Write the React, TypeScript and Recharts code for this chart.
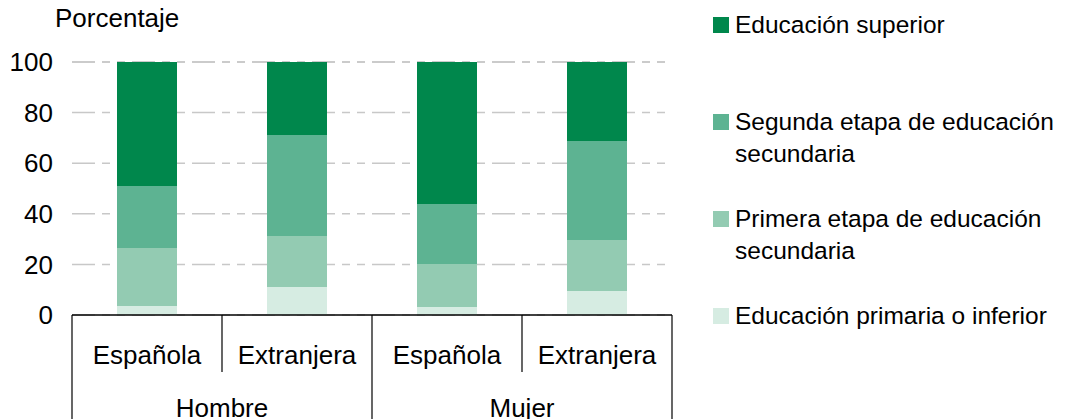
import { BarChart, Bar, XAxis, YAxis, CartesianGrid, Legend } from 'recharts';

const categories = ['Española', 'Extranjera', 'Española', 'Extranjera'];
const groups = ['Hombre', 'Hombre', 'Mujer', 'Mujer'];

const primaria = [3.6, 11.1, 3.2, 9.5];
const primeraEtapa = [22.9, 20.1, 17.0, 20.1];
const segundaEtapa = [24.5, 39.9, 23.7, 39.2];
const superior = [49.0, 28.9, 56.1, 31.2];

const yTicks = [0, 20, 40, 60, 80, 100];

const series = [
  { key: 'primaria', name: 'Educación primaria o inferior', color: '#d6ece2' },
  { key: 'primera', name: 'Primera etapa de educación secundaria', color: '#93cbb2' },
  { key: 'segunda', name: 'Segunda etapa de educación secundaria', color: '#5db392' },
  { key: 'superior', name: 'Educación superior', color: '#00874c' },
];

const data = categories.map((c, i) => ({
  cat: c,
  group: groups[i],
  primaria: primaria[i],
  primera: primeraEtapa[i],
  segunda: segundaEtapa[i],
  superior: superior[i],
}));

const FONT = '"Liberation Sans", Arial, sans-serif';
const BAND = 150;

function CatTick(props: any) {
  const { x, y, index, payload } = props;
  const left = x - BAND / 2;
  const right = x + BAND / 2;
  const startsGroup = index === 0 || groups[index] !== groups[index - 1];
  const endsGroup = index === groups.length - 1 || groups[index] !== groups[index + 1];
  return (
    <g>
      <line x1={left} x2={left} y1={y} y2={startsGroup ? y + 110 : y + 57} stroke="#000" strokeWidth={1.2} />
      {index === groups.length - 1 && (
        <line x1={right} x2={right} y1={y} y2={y + 110} stroke="#000" strokeWidth={1.2} />
      )}
      <text x={x} y={y + 49} textAnchor="middle" fontSize={26} fill="#000" fontFamily={FONT}>
        {payload.value}
      </text>
      {endsGroup && !startsGroup && (
        <text x={left} y={y + 102} textAnchor="middle" fontSize={26} fill="#000" fontFamily={FONT}>
          {groups[index]}
        </text>
      )}
    </g>
  );
}

function LegendBox() {
  const order = [...series].reverse();
  return (
    <div style={{ position: 'relative', width: 352, height: 340, fontFamily: FONT }}>
      {order.map((s, i) => (
        <div key={s.key}>
          <div
            style={{
              position: 'absolute', left: 0, top: 17 + i * 97,
              width: 16, height: 16, background: s.color,
            }}
          />
          <div
            style={{
              position: 'absolute', left: 22, top: 9 + i * 97, width: 328,
              fontSize: 24.5, lineHeight: '32px', color: '#000',
            }}
          >
            {s.name}
          </div>
        </div>
      ))}
    </div>
  );
}

export default function App() {
  return (
    <div style={{ position: 'absolute', left: 0, top: 0, width: 1065, height: 419, background: '#fff', overflow: 'hidden' }}>
      <div
        style={{
          position: 'absolute', left: 55, top: 3, fontFamily: FONT,
          fontSize: 26, color: '#000',
        }}
      >
        Porcentaje
      </div>
      <BarChart
        width={1065}
        height={419}
        data={data}
        margin={{ top: 62, right: 393, bottom: 0, left: 0 }}
        barSize={60}
      >
        <CartesianGrid
          vertical={false}
          stroke="#c8c8c8"
          strokeWidth={1.5}
          strokeDasharray="23 7 8 7 8 7"
        />
        <XAxis
          dataKey="cat"
          axisLine={{ stroke: '#000', strokeWidth: 1.5 }}
          tickLine={false}
          tickSize={0}
          tickMargin={0}
          interval={0}
          tick={<CatTick />}
          height={104}
        />
        <YAxis
          width={72}
          domain={[0, 100]}
          ticks={yTicks}
          interval={0}
          axisLine={false}
          tickLine={false}
          tickSize={0}
          tickMargin={19}
          tick={{ fontSize: 26, fill: '#000', fontFamily: FONT }}
        />
        <Legend
          layout="horizontal"
          verticalAlign="middle"
          align="center"
          content={<LegendBox />}
          wrapperStyle={{ position: 'absolute', left: 713, top: 0, width: 352, height: 340 }}
        />
        {series.map((s) => (
          <Bar key={s.key} dataKey={s.key} name={s.name} stackId="a" fill={s.color} isAnimationActive={false} />
        ))}
      </BarChart>
    </div>
  );
}
